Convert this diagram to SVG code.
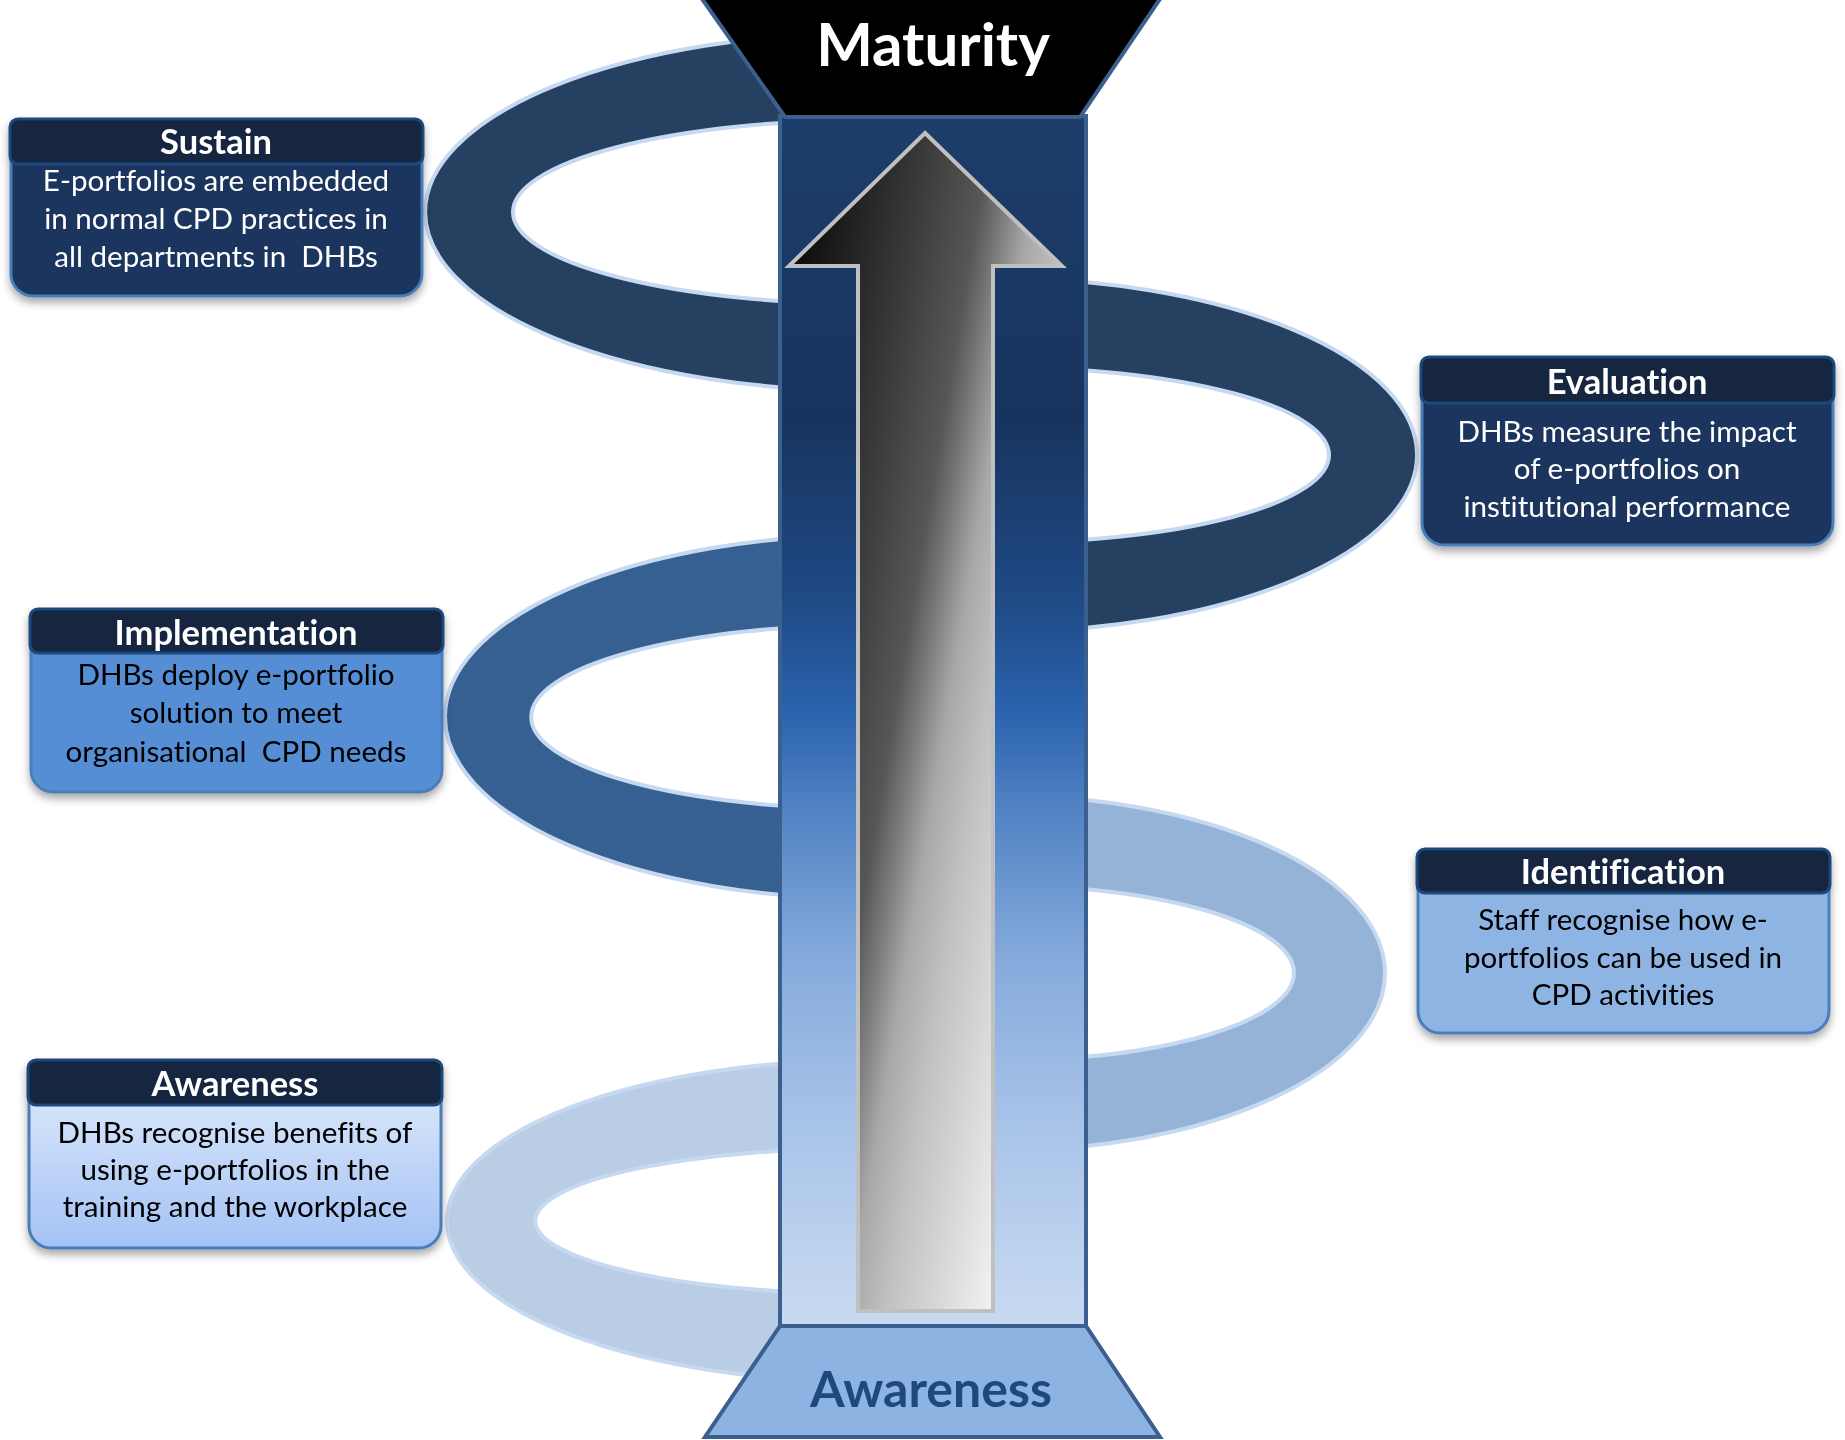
<svg xmlns="http://www.w3.org/2000/svg" width="1845" height="1440" viewBox="0 0 1845 1440">
<defs>
<style>
text{font-variant-ligatures:none}
.ring{stroke:#c6d9f1;stroke-width:4}
.hdr{fill:#13253f;stroke:#1f497d;stroke-width:3}
.body{stroke:#4a7ebb;stroke-width:3}
.ht{font-family:Lato,"Open Sans",sans-serif;font-weight:bold;font-size:34.5px;fill:#ffffff;text-anchor:middle}
.bt{font-family:Lato,"Open Sans",sans-serif;font-size:29.6px;text-anchor:middle}
.wt{fill:#ffffff}
.kt{fill:#000000}
</style>
<linearGradient id="colG" x1="0" y1="0" x2="0" y2="1">
<stop offset="0" stop-color="#1d3d6b"/>
<stop offset="0.25" stop-color="#17345e"/>
<stop offset="0.40" stop-color="#1f4a85"/>
<stop offset="0.49" stop-color="#2a62ad"/>
<stop offset="0.58" stop-color="#5485c6"/>
<stop offset="0.70" stop-color="#86abdc"/>
<stop offset="0.85" stop-color="#acc6ea"/>
<stop offset="1" stop-color="#c8daf1"/>
</linearGradient>
<linearGradient id="arrG" gradientUnits="userSpaceOnUse" x1="730" y1="667" x2="1095" y2="728">
<stop offset="0" stop-color="#0d0d0d"/>
<stop offset="0.3" stop-color="#3c3c3c"/>
<stop offset="0.46" stop-color="#575757"/>
<stop offset="0.6" stop-color="#a8a8a8"/>
<stop offset="0.7" stop-color="#c0c0c0"/>
<stop offset="1" stop-color="#f4f4f4"/>
</linearGradient>
<linearGradient id="awG" x1="0" y1="0" x2="0" y2="1">
<stop offset="0" stop-color="#e0ebfb"/>
<stop offset="1" stop-color="#a3c2f5"/>
</linearGradient>
<filter id="shadow" x="-10%" y="-10%" width="120%" height="130%">
<feDropShadow dx="0" dy="5" stdDeviation="4" flood-color="#000" flood-opacity="0.35"/>
</filter>
</defs>
<rect x="0" y="0" width="1845" height="1440" fill="#ffffff"/>

<g id="spiral">
<path class="ring" fill="#254061" d="M870,33 A445,179 0 0 0 870,391 L870,304 A357,92 0 0 1 870,120 Z"/>
<path class="ring" fill="#254061" d="M996,278 A421,177 0 0 1 996,632 L996,543 A333,88 0 0 0 996,367 Z"/>
<path class="ring" fill="#366092" d="M870,535 A425,182 0 0 0 870,899 L870,809 A339,92 0 0 1 870,625 Z"/>
<path class="ring" fill="#95b3d7" d="M996,795 A389,178 0 0 1 996,1151 L996,1061 A298,88 0 0 0 996,885 Z"/>
<path class="ring" fill="#b9cde5" d="M870,1060 A423,161 0 0 0 870,1382 L870,1294 A335,73 0 0 1 870,1148 Z"/>
</g>

<g id="column">
<rect x="780" y="116" width="306" height="1210" fill="url(#colG)" stroke="#3b5f8e" stroke-width="4"/>
</g>

<g id="maturity">
<polygon points="700,-4 1162,-4 1080,117 785,117" fill="#000000" stroke="#3b5f8e" stroke-width="4"/>
<text x="933" y="66" font-family="Lato,'Open Sans',sans-serif" font-weight="bold" font-size="60" fill="#ffffff" text-anchor="middle">Maturity</text>
</g>

<g id="arrow">
<polygon points="925,133 1062,266 993,266 993,1311 858,1311 858,266 789,266" fill="url(#arrG)" stroke="#c0c0c0" stroke-width="4" stroke-linejoin="miter"/>
</g>

<g id="base">
<polygon points="780,1326 1086,1326 1160,1437 705,1437" fill="#8db3e2" stroke="#3b5f8e" stroke-width="4"/>
<text x="931" y="1407" font-family="Lato,'Open Sans',sans-serif" font-weight="bold" font-size="50" fill="#1f497d" text-anchor="middle">Awareness</text>
</g>

<g id="sustain" filter="url(#shadow)">
<rect class="body" x="11" y="130" width="411" height="166" rx="22" fill="#1b365f"/>
<rect class="hdr" x="10" y="119" width="413" height="45" rx="8"/>
<text class="ht" x="216" y="154">Sustain</text>
<text class="bt wt" xml:space="preserve"><tspan x="216" y="191">E-portfolios are embedded</tspan><tspan x="216" y="229">in normal CPD practices in</tspan><tspan x="216" y="267">all departments in  DHBs</tspan></text>
</g>

<g id="evaluation" filter="url(#shadow)">
<rect class="body" x="1422" y="368" width="411" height="177" rx="22" fill="#1b365f"/>
<rect class="hdr" x="1421" y="357" width="413" height="46" rx="8"/>
<text class="ht" x="1627" y="394">Evaluation</text>
<text class="bt wt"><tspan x="1627" y="442">DHBs measure the impact</tspan><tspan x="1627" y="479">of e-portfolios on</tspan><tspan x="1627" y="517">institutional performance</tspan></text>
</g>

<g id="implementation" filter="url(#shadow)">
<rect class="body" x="31" y="620" width="411" height="172" rx="22" fill="#558ed5"/>
<rect class="hdr" x="30" y="609" width="413" height="44" rx="8"/>
<text class="ht" x="236" y="645">Implementation</text>
<text class="bt kt" xml:space="preserve"><tspan x="236" y="685">DHBs deploy e-portfolio</tspan><tspan x="236" y="723">solution to meet</tspan><tspan x="236" y="762">organisational  CPD needs</tspan></text>
</g>

<g id="identification" filter="url(#shadow)">
<rect class="body" x="1418" y="860" width="411" height="173" rx="22" fill="#8eb4e3"/>
<rect class="hdr" x="1417" y="849" width="413" height="44" rx="8"/>
<text class="ht" x="1623" y="884">Identification</text>
<text class="bt kt"><tspan x="1623" y="930">Staff recognise how e-</tspan><tspan x="1623" y="968">portfolios can be used in</tspan><tspan x="1623" y="1005">CPD activities</tspan></text>
</g>

<g id="awareness" filter="url(#shadow)">
<rect class="body" x="29" y="1070" width="412" height="178" rx="22" fill="url(#awG)"/>
<rect class="hdr" x="28" y="1060" width="414" height="45" rx="8"/>
<text class="ht" x="235" y="1096">Awareness</text>
<text class="bt kt"><tspan x="235" y="1143">DHBs recognise benefits of</tspan><tspan x="235" y="1180">using e-portfolios in the</tspan><tspan x="235" y="1217">training and the workplace</tspan></text>
</g>
</svg>
